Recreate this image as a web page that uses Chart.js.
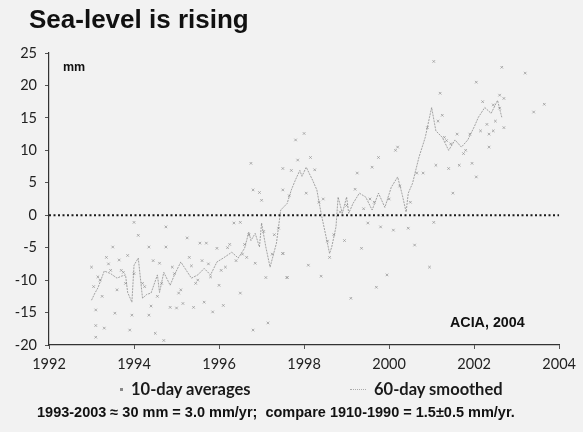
<!DOCTYPE html>
<html>
<head>
<meta charset="utf-8">
<script src="https://cdn.jsdelivr.net/npm/chart.js@4/dist/chart.umd.min.js"></script>
<style>
  html, body { margin: 0; padding: 0; background: #f2f2f2; }
  #wrap { position: relative; width: 583px; height: 432px; background: #f2f2f2; overflow: hidden; }
  canvas { position: absolute; left: 0; top: 0; }
  .txt { position: absolute; white-space: nowrap; color: #111; }
  #title { left: 29px; top: 4px; font: bold 26px "Liberation Sans", Arial, sans-serif; }
  #unit { left: 63px; top: 60px; font: bold 12.5px "Liberation Sans", Arial, sans-serif; }
  #src { left: 450px; top: 314px; font: bold 14.3px "Liberation Sans", Arial, sans-serif; }
  .leg { top: 379px; font: bold 16.5px Lato, "Open Sans", sans-serif; color: #1a1a1a; }
  #leg1 { left: 117px; }
  #leg2 { left: 350px; }
  #leg1 .mk { display: inline-block; width: 3px; height: 3px; background: #888; margin: 0 8px 3px 3px; vertical-align: middle; }
  #leg2 .mk { display: inline-block; width: 16px; border-top: 1px dotted #aaa; margin: 0 8px 3px 0; vertical-align: middle; }
  #foot { left: 37px; top: 404px; font: bold 14.5px "Liberation Sans", Arial, sans-serif; }
</style>
</head>
<body>
<div id="wrap">
  <canvas id="c" width="583" height="432"></canvas>
  <div class="txt" id="title">Sea-level is rising</div>
  <div class="txt" id="unit">mm</div>
  <div class="txt" id="src">ACIA, 2004</div>
  <div class="txt leg" id="leg1"><span class="mk"></span>10-day averages</div>
  <div class="txt leg" id="leg2"><span class="mk"></span>60-day smoothed</div>
  <div class="txt" id="foot">1993-2003 ≈ 30 mm = 3.0 mm/yr;&nbsp; compare 1910-1990 = 1.5±0.5 mm/yr.</div>
</div>
<script>
// Axis ranges and tick values
const xTicks = [1992, 1994, 1996, 1998, 2000, 2002, 2004];
const yTicks = [-20, -15, -10, -5, 0, 5, 10, 15, 20, 25];

// 60-day smoothed sea level (year, mm)
const smoothYears = [
  1993.0, 1993.08, 1993.15, 1993.3, 1993.45, 1993.6, 1993.7, 1993.8, 1993.85, 1993.95,
  1994.0, 1994.1, 1994.15, 1994.2, 1994.3, 1994.4, 1994.55, 1994.6, 1994.7, 1994.85,
  1994.95, 1995.1, 1995.2, 1995.35, 1995.5, 1995.65, 1995.8, 1995.95, 1996.1, 1996.3,
  1996.45, 1996.6, 1996.7, 1996.75, 1996.85, 1996.95, 1997.0, 1997.1, 1997.2, 1997.35,
  1997.45, 1997.6, 1997.7, 1997.8, 1997.9, 1997.95, 1998.05, 1998.2, 1998.3, 1998.4,
  1998.5, 1998.6, 1998.65, 1998.75, 1998.8, 1998.9, 1999.0, 1999.05, 1999.15, 1999.3,
  1999.45, 1999.6, 1999.75, 1999.9, 2000.05, 2000.2, 2000.3, 2000.4, 2000.45, 2000.55,
  2000.7, 2000.85, 2000.95, 2001.0, 2001.1, 2001.25, 2001.4, 2001.55, 2001.7, 2001.85,
  2002.0, 2002.1, 2002.25, 2002.4, 2002.55, 2002.65
];
const smoothMm = [
  -13.1, -12.0, -11.2, -8.6, -9.0, -9.7, -9.4, -9.2, -11.9, -13.4,
  -7.7, -6.6, -9.7, -12.8, -12.2, -12.0, -9.2, -11.9, -8.8, -10.8,
  -9.2, -7.2, -8.2, -9.7, -9.2, -8.2, -9.2, -7.2, -6.6, -5.7,
  -6.6, -5.1, -2.6, -3.9, -2.8, -4.9, -1.2, -4.9, -8.0, -4.3,
  0.8, 1.8, 3.9, 5.5, 6.9, 6.0, 7.4, 5.4, 3.9, 0.3,
  -2.8, -5.9, -4.9, -1.8, 2.8, 0.3, 2.8, 0.3, 1.8, 3.4,
  2.8, 0.8, 3.4, 1.2, 4.3, 5.9, 3.4, 0.5, 3.4, 4.9,
  8.9, 12.0, 15.1, 16.6, 13.0, 12.0, 10.0, 11.6, 10.5, 11.6,
  13.6, 15.1, 16.6, 15.7, 17.7, 15.1
];

// 10-day averages (year, mm)
const avgYears = [
  1993.0, 1993.1, 1993.1, 1993.3, 1993.1, 1993.35, 1993.5, 1993.65, 1993.55, 1993.85,
  1994.0, 1994.1, 1993.9, 1993.95, 1994.35, 1994.35, 1994.5, 1994.75, 1994.75, 1994.6,
  1994.7, 1994.85, 1995.0, 1995.15, 1995.25, 1995.4, 1995.55, 1995.7, 1995.65, 1995.95,
  1995.85, 1996.1, 1996.0, 1996.35, 1996.5, 1996.5, 1996.75, 1996.8, 1996.95, 1997.0,
  1996.85, 1996.8, 1997.1, 1997.15, 1997.5, 1997.6, 1997.5, 1997.7, 1998.05, 2001.05,
  2002.65, 2003.2, 2002.05, 2001.2, 2003.65, 2003.4, 2001.25, 2002.35, 2001.65, 2001.95,
  2002.05, 2001.1, 2001.4, 2001.5, 2000.8, 2000.2, 2000.15, 1999.75, 1999.25, 1999.6,
  1998.0, 1997.8, 1998.15, 1997.5, 2000.6, 2000.45, 2000.1, 1999.8, 1999.5, 2001.05,
  2000.95, 1999.95, 1999.7, 1999.35, 1998.95, 1998.4, 1998.1, 1997.6, 1997.5, 1999.1,
  1993.05, 1993.15, 1993.25, 1993.45, 1993.6, 1993.75, 1994.0, 1994.25, 1994.4, 1994.65,
  1994.95, 1995.1, 1995.35, 1995.45, 1995.6, 1995.8, 1996.05, 1996.2, 1996.4, 1996.6,
  1996.7, 1997.05, 1997.25, 1997.4, 1997.65, 1997.85, 1998.25, 1998.35, 1998.55, 1998.7,
  1998.85, 1999.0, 1999.2, 1999.4, 1999.55, 1999.85, 2000.0, 2000.25, 2000.5, 2000.65,
  2000.9, 2001.15, 2001.3, 2001.45, 2001.6, 2001.75, 2001.9, 2002.15, 2002.2, 2002.3,
  2002.45, 2002.5, 2002.6, 2002.7, 2002.7, 2002.6, 2002.45, 2002.35, 2001.8, 2001.35,
  1993.2, 1993.4, 1993.7, 1994.2, 1994.45, 1994.9, 1995.3, 1995.75, 1996.25, 1996.55,
  1995.05, 1995.5, 1994.55, 1993.8, 1996.15, 1996.65, 1997.3, 1998.45, 1998.6, 1999.65
];
const avgMm = [
  -8.0, -17.0, -18.8, -17.4, -14.6, -6.5, -4.9, -6.9, -15.1, -6.2,
  -1.1, -3.1, -17.7, -15.4, -4.9, -15.4, -18.2, -1.8, -4.9, -7.4,
  -19.3, -14.2, -14.3, -13.6, -3.5, -14.2, -4.3, -4.3, -13.4, -5.1,
  -14.9, -13.9, -10.8, -1.2, -1.1, -12.0, 8.0, 3.9, 3.5, 2.3,
  -7.4, -17.7, -9.6, -16.6, -5.9, -9.6, 3.9, 6.9, 3.4, 23.7,
  22.8, 21.9, 20.5, 18.8, 17.1, 15.9, 15.4, 10.5, 7.7, 8.0,
  5.9, 7.7, 7.2, 3.4, 6.5, 10.5, 10.0, 8.9, 6.5, 7.4,
  12.6, 11.6, 8.9, 7.2, -4.6, -2.0, -2.3, -1.8, -1.2, -1.1,
  -8.0, -9.2, -11.1, -5.1, -3.9, -9.4, -7.7, -9.6, -5.9, -12.8,
  -11.0, -9.5, -12.5, -8.5, -11.5, -8.8, -9.0, -11.0, -14.0, -10.5,
  -9.0, -11.5, -7.8, -10.5, -7.0, -9.5, -8.5, -5.0, -7.0, -4.5,
  -3.0, -2.5, -6.0, -2.0, 3.0, 8.5, 7.0, 2.0, -4.0, -3.0,
  0.5, 1.5, 4.0, 1.0, 2.5, 0.0, 2.5, 4.5, 2.0, 6.5,
  13.5, 14.5, 12.0, 11.0, 12.5, 9.5, 12.5, 13.0, 17.5, 14.0,
  17.0, 14.5, 16.5, 18.0, 13.5, 18.5, 13.0, 12.5, 10.0, 11.5,
  -10.0, -7.5, -8.5, -10.5, -7.0, -8.0, -6.5, -7.5, -4.5, -6.0,
  -12.0, -10.0, -12.5, -10.5, -8.0, -6.5, -3.0, 2.5, -6.5, 2.0
];

const toPoints = (xs, ys) => xs.map((x, i) => ({ x: x, y: ys[i] }));

const tickFont = { family: 'Lato, "Open Sans", sans-serif', size: 14.5 };

new Chart(document.getElementById('c'), {
  type: 'scatter',
  data: {
    datasets: [
      {
        label: 'zero',
        data: [{ x: xTicks[0], y: 0 }, { x: xTicks[xTicks.length - 1], y: 0 }],
        showLine: true,
        borderColor: '#1a1a1a',
        borderWidth: 2,
        borderDash: [2, 2.5],
        pointRadius: 0,
        order: 0
      },
      {
        label: '60-day smoothed',
        data: toPoints(smoothYears, smoothMm),
        showLine: true,
        borderColor: 'rgba(135,135,135,0.75)',
        borderWidth: 1,
        borderDash: [2, 1],
        pointRadius: 0,
        tension: 0,
        order: 1
      },
      {
        label: '10-day averages',
        data: toPoints(avgYears, avgMm),
        showLine: false,
        pointStyle: 'crossRot',
        pointRadius: 1.8,
        borderColor: 'rgba(150,150,150,0.75)',
        borderWidth: 1,
        order: 2
      }
    ]
  },
  options: {
    responsive: false,
    animation: false,
    layout: { padding: { top: 53, right: 22, left: 0, bottom: 0 } },
    plugins: { legend: { display: false }, tooltip: { enabled: false } },
    scales: {
      x: {
        type: 'linear',
        min: xTicks[0],
        max: xTicks[xTicks.length - 1],
        afterBuildTicks: s => { s.ticks = xTicks.map(v => ({ value: v })); },
        afterFit: s => { s.height = 87; },
        ticks: { callback: v => String(v), font: tickFont, color: '#222', padding: 7, maxRotation: 0 },
        grid: { display: true, drawOnChartArea: false, drawTicks: true, tickLength: 4, color: '#555' },
        border: { display: true, color: '#333', width: 1.2 }
      },
      y: {
        min: yTicks[0],
        max: yTicks[yTicks.length - 1],
        afterBuildTicks: s => { s.ticks = yTicks.map(v => ({ value: v })); },
        afterFit: s => { s.width = 49; },
        ticks: { callback: v => String(v), font: tickFont, color: '#222', padding: 8 },
        grid: { display: true, drawOnChartArea: false, drawTicks: true, tickLength: 4, color: '#555' },
        border: { display: true, color: '#333', width: 1.2 }
      }
    }
  }
});
</script>
</body>
</html>
